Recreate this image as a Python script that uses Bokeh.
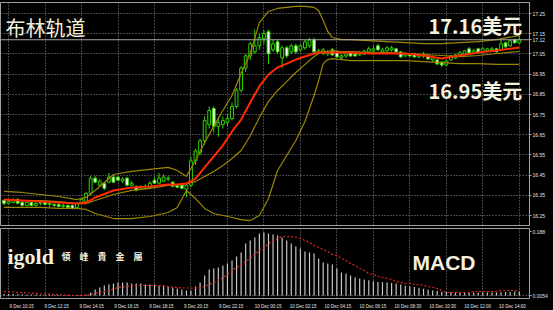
import numpy as np
from bokeh.plotting import figure
from bokeh.layouts import column
from bokeh.models import Range1d, FixedTicker, Grid, Span, Label, NumeralTickFormatter
from bokeh.embed import file_html
from bokeh.resources import INLINE

# ---------------- data ----------------
time_labels = ["9 Dec 10:15", "9 Dec 12:15", "9 Dec 14:15", "9 Dec 16:15", "9 Dec 18:15",
               "9 Dec 20:15", "9 Dec 22:15", "10 Dec 00:15", "10 Dec 02:15", "10 Dec 04:15",
               "10 Dec 06:15", "10 Dec 08:30", "10 Dec 10:30", "10 Dec 12:00", "10 Dec 14:00"]
label_bars = [1, 9, 17, 25, 33, 41, 49, 57, 65, 73, 81, 89, 97, 105, 113]

opens = [
    16.325, 16.31, 16.315, 16.33, 16.315, 16.30, 16.315, 16.30, 16.31, 16.315,
    16.305, 16.305, 16.305, 16.295, 16.30, 16.30, 16.29, 16.31, 16.32, 16.36,
    16.435, 16.40, 16.41, 16.415, 16.44, 16.44, 16.42, 16.435, 16.40, 16.39,
    16.38, 16.385, 16.39, 16.425, 16.41, 16.42, 16.43, 16.415, 16.40, 16.40,
    16.38, 16.40, 16.52, 16.56, 16.62, 16.70, 16.78, 16.69, 16.70, 16.71,
    16.73, 16.79, 16.87, 16.98, 17.04, 17.06, 17.09, 17.126, 17.16, 17.07,
    17.11, 17.03, 17.08, 17.06, 17.09, 17.07, 17.08, 17.09, 17.12, 17.055,
    17.05, 17.05, 17.07, 17.06, 17.03, 17.04, 17.055, 17.05, 17.045, 17.05,
    17.06, 17.065, 17.09, 17.06, 17.065, 17.07, 17.075, 17.06, 17.04, 17.05,
    17.05, 17.035, 17.04, 17.04, 17.02, 17.02, 17.01, 16.995, 17.02, 17.03,
    17.045, 17.05, 17.075, 17.055, 17.075, 17.06, 17.065, 17.07, 17.075, 17.07,
    17.105, 17.09, 17.12, 17.105]
closes = [
    16.31, 16.32, 16.325, 16.31, 16.30, 16.315, 16.30, 16.31, 16.315, 16.305,
    16.31, 16.30, 16.295, 16.30, 16.29, 16.285, 16.31, 16.33, 16.36, 16.435,
    16.415, 16.42, 16.385, 16.44, 16.415, 16.425, 16.43, 16.40, 16.41, 16.375,
    16.39, 16.395, 16.41, 16.41, 16.435, 16.44, 16.435, 16.395, 16.39, 16.385,
    16.40, 16.52, 16.57, 16.62, 16.72, 16.77, 16.69, 16.71, 16.72, 16.73,
    16.79, 16.87, 16.98, 17.04, 17.10, 17.09, 17.13, 17.151, 17.05, 17.10,
    17.06, 17.08, 17.04, 17.09, 17.06, 17.09, 17.11, 17.12, 17.06, 17.065,
    17.07, 17.06, 17.045, 17.035, 17.04, 17.05, 17.04, 17.04, 17.055, 17.065,
    17.075, 17.075, 17.07, 17.07, 17.08, 17.08, 17.06, 17.035, 17.05, 17.04,
    17.035, 17.045, 17.05, 17.025, 17.03, 17.00, 16.995, 17.015, 17.04, 17.045,
    17.055, 17.065, 17.055, 17.065, 17.055, 17.075, 17.075, 17.075, 17.06, 17.10,
    17.085, 17.115, 17.105, 17.12]
highs = [
    16.33, 16.33, 16.335, 16.335, 16.32, 16.325, 16.32, 16.32, 16.325, 16.32,
    16.315, 16.31, 16.31, 16.31, 16.305, 16.305, 16.315, 16.335, 16.365, 16.445,
    16.445, 16.43, 16.415, 16.46, 16.45, 16.445, 16.44, 16.44, 16.42, 16.40,
    16.40, 16.405, 16.42, 16.44, 16.46, 16.455, 16.445, 16.42, 16.405, 16.405,
    16.41, 16.54, 16.58, 16.63, 16.74, 16.79, 16.79, 16.74, 16.74, 16.75,
    16.81, 16.88, 16.99, 17.05, 17.11, 17.17, 17.15, 17.166, 17.17, 17.12,
    17.12, 17.09, 17.09, 17.10, 17.10, 17.10, 17.12, 17.13, 17.13, 17.075,
    17.08, 17.07, 17.08, 17.065, 17.05, 17.06, 17.06, 17.06, 17.065, 17.07,
    17.085, 17.09, 17.10, 17.08, 17.09, 17.09, 17.08, 17.065, 17.06, 17.055,
    17.055, 17.055, 17.06, 17.045, 17.04, 17.025, 17.015, 17.02, 17.045, 17.05,
    17.065, 17.07, 17.085, 17.075, 17.08, 17.085, 17.08, 17.085, 17.08, 17.12,
    17.11, 17.12, 17.125, 17.14]
lows = [
    16.30, 16.305, 16.31, 16.305, 16.295, 16.295, 16.295, 16.295, 16.30, 16.30,
    16.29, 16.29, 16.29, 16.285, 16.285, 16.28, 16.285, 16.305, 16.315, 16.35,
    16.41, 16.395, 16.375, 16.41, 16.41, 16.42, 16.41, 16.395, 16.395, 16.37,
    16.375, 16.38, 16.385, 16.405, 16.405, 16.415, 16.42, 16.39, 16.385, 16.38,
    16.34, 16.39, 16.50, 16.55, 16.60, 16.68, 16.66, 16.64, 16.68, 16.69,
    16.72, 16.78, 16.86, 16.96, 17.02, 17.05, 17.07, 17.10, 17.00, 17.06,
    17.05, 16.98, 17.03, 17.05, 17.05, 17.06, 17.07, 17.08, 17.05, 17.05,
    17.045, 17.04, 17.04, 17.03, 17.02, 17.03, 17.035, 17.035, 17.04, 17.045,
    17.055, 17.06, 17.065, 17.055, 17.06, 17.06, 17.05, 17.03, 17.035, 17.035,
    17.03, 17.03, 17.03, 17.02, 17.01, 16.995, 16.985, 16.99, 17.015, 17.025,
    17.04, 17.045, 17.05, 17.05, 17.05, 17.055, 17.06, 17.065, 17.055, 17.065,
    17.08, 17.085, 17.10, 17.10]

# indicator lines, read at these bars
band_bars = [0, 4, 8, 12, 16, 18, 20, 24, 28, 32, 36, 38, 40, 42, 44, 46, 48, 50, 52, 54, 56,
             58, 60, 62, 64, 66, 68, 69, 70, 71, 72, 74, 76, 80, 84, 88, 92, 96, 100, 104, 108, 113]
bb_upper = [16.369, 16.364, 16.354, 16.344, 16.329, 16.340, 16.374, 16.453, 16.468, 16.478, 16.488,
            16.473, 16.443, 16.522, 16.611, 16.691, 16.770, 16.844, 16.953, 17.052, 17.205,
            17.260, 17.275, 17.280, 17.285, 17.285, 17.280, 17.265, 17.215, 17.161, 17.131,
            17.121, 17.121, 17.116, 17.111, 17.106, 17.101, 17.101, 17.106, 17.111, 17.121, 17.141]
bb_middle = [16.329, 16.324, 16.324, 16.319, 16.309, 16.309, 16.324, 16.354, 16.374, 16.384, 16.399,
             16.403, 16.408, 16.418, 16.443, 16.468, 16.498, 16.532, 16.572, 16.645, 16.735,
             16.815, 16.869, 16.913, 16.958, 16.998, 17.037, 17.052, 17.062, 17.062, 17.067,
             17.062, 17.062, 17.057, 17.057, 17.052, 17.047, 17.042, 17.037, 17.042, 17.052, 17.062]
bb_lower = [16.290, 16.290, 16.290, 16.285, 16.285, 16.280, 16.260, 16.235, 16.235, 16.245, 16.265,
            16.290, 16.374, 16.334, 16.285, 16.260, 16.250, 16.240, 16.230, 16.225, 16.250,
            16.334, 16.473, 16.547, 16.621, 16.715, 16.844, 16.918, 17.002, 17.022, 17.027,
            17.022, 17.017, 17.017, 17.017, 17.017, 17.012, 17.007, 17.002, 17.002, 16.998, 16.998]
ma_red = [16.329, 16.324, 16.319, 16.314, 16.309, 16.314, 16.339, 16.374, 16.389, 16.394, 16.403,
          16.403, 16.408, 16.433, 16.488, 16.542, 16.597, 16.666, 16.725, 16.809, 16.889,
          16.948, 16.983, 17.002, 17.022, 17.037, 17.052, 17.057, 17.057, 17.057, 17.057,
          17.057, 17.057, 17.052, 17.052, 17.052, 17.042, 17.027, 17.042, 17.057, 17.067, 17.082]

macd_main = [
    0.0044, 0.0044, 0.0041, 0.0038, 0.0035, 0.0032, 0.0029, 0.0026, 0.0024, 0.0021,
    0.0018, 0.0015, 0.0012, 0.0010, 0.0009, 0.0008, 0.0010, 0.0015, 0.0029,
    0.0088, 0.0176, 0.0235, 0.0294, 0.0323, 0.0353, 0.0382, 0.0382, 0.0382, 0.0353, 0.0353,
    0.0353, 0.0323, 0.0323, 0.0323, 0.0294, 0.0294, 0.0264, 0.0235, 0.0206, 0.0176, 0.0147,
    0.0147, 0.0264, 0.0382, 0.0588, 0.0764, 0.0793, 0.0823, 0.0881, 0.0940, 0.1028,
    0.1146, 0.1263, 0.1528, 0.1616, 0.1704, 0.1821, 0.1851, 0.1821, 0.1792, 0.1763,
    0.1704, 0.1616, 0.1528, 0.1439, 0.1381, 0.1293, 0.1263, 0.1234, 0.1087, 0.0969,
    0.0940, 0.0911, 0.0793, 0.0676, 0.0646, 0.0588, 0.0529, 0.0500, 0.0470, 0.0450,
    0.0420, 0.0400, 0.0390, 0.0380, 0.0370, 0.0350, 0.0320, 0.0290, 0.0270, 0.0250,
    0.0230, 0.0200, 0.0170, 0.0150, 0.0130, 0.0110, 0.0100, 0.0095, 0.0090, 0.0088,
    0.0087, 0.0086, 0.0085, 0.0085, 0.0085, 0.0085, 0.0085, 0.0090, 0.0095, 0.0100,
    0.0110, 0.0115, 0.0120]
macd_signal = [
    0.0118, 0.0110, 0.0100, 0.0092, 0.0085, 0.0076, 0.0068, 0.0060, 0.0052, 0.0045,
    0.0038, 0.0030, 0.0024, 0.0018, 0.0012, 0.0008, 0.0006, 0.0006, 0.0010,
    0.0029, 0.0059, 0.0088, 0.0118, 0.0147, 0.0191, 0.0235, 0.0250, 0.0264, 0.0279, 0.0294,
    0.0294, 0.0294, 0.0294, 0.0294, 0.0294, 0.0279, 0.0264, 0.0250, 0.0235, 0.0220, 0.0220,
    0.0220, 0.0220, 0.0235, 0.0264, 0.0323, 0.0382, 0.0441, 0.0529, 0.0617, 0.0734,
    0.0823, 0.0911, 0.0999, 0.1087, 0.1204, 0.1322, 0.1410, 0.1528, 0.1616, 0.1674,
    0.1733, 0.1733, 0.1733, 0.1704, 0.1674, 0.1616, 0.1557, 0.1469, 0.1410, 0.1351,
    0.1293, 0.1204, 0.1175, 0.1087, 0.1028, 0.0940, 0.0881, 0.0793, 0.0734, 0.0646,
    0.0617, 0.0558, 0.0529, 0.0499, 0.0470, 0.0411, 0.0382, 0.0353, 0.0353, 0.0323,
    0.0323, 0.0294, 0.0264, 0.0235, 0.0206, 0.0147, 0.0088, 0.0088, 0.0088, 0.0088,
    0.0088, 0.0088, 0.0118, 0.0118, 0.0118, 0.0118, 0.0118, 0.0118, 0.0147, 0.0147,
    0.0147, 0.0147, 0.0147]

price_ticks = [16.25, 16.35, 16.45, 16.55, 16.65, 16.75, 16.85, 16.95, 17.05, 17.15, 17.25]
macd_ticks = [0.0, 0.188]
macd_tick_text = ["0.0054", "0.188"]

# ---------------- layout / style ----------------
W = 553
BAR_PX = 4.56      # pixels per bar
X0_PX = 3.5        # pixel of bar 0
FRAME_R = 529      # right edge of the chart frames


def bar_at(px):
    return (px - X0_PX) / BAR_PX


def price_at(py):
    return 17.25 - (py - 13) / 202.0


def macd_at(py):
    return (295 - py) * 0.188 / 64.0


BG = "black"
GRID = "#8c8c8c"
FRAME = "#a0a0a0"
GREEN = "#2fd400"
OLIVE = "#9c8800"
RED = "#ff2a00"
CREAM = "#f3f0df"
TICK_TXT = "#e4e4e4"

x = np.arange(len(closes))
o = np.array(opens)
c = np.array(closes)
body_top = np.maximum(o, c)
body_bot = np.minimum(o, c)
body_fill = ["white" if cc < oo else "black" for oo, cc in zip(opens, closes)]
last_price = closes[-1]

# ---- price panel ----
p = figure(width=W, height=227, output_backend="svg", toolbar_location=None,
           x_range=Range1d(bar_at(0), bar_at(FRAME_R)),
           y_range=Range1d(price_at(225), price_at(2)),
           x_axis_location=None, y_axis_location="right",
           min_border_left=0, min_border_right=W - FRAME_R, min_border_top=2, min_border_bottom=2,
           background_fill_color=BG, border_fill_color=BG,
           outline_line_color=FRAME, outline_line_width=1)
ax = p.yaxis[0]
ax.ticker = FixedTicker(ticks=price_ticks + [last_price])
ax.formatter = NumeralTickFormatter(format="0.00")
ax.major_label_text_font = "Liberation Sans"
ax.major_label_text_font_size = "5px"
ax.major_label_text_color = TICK_TXT
ax.major_tick_out = 2
ax.major_tick_in = 0
ax.minor_tick_out = 0
ax.minor_tick_in = 0
ax.major_tick_line_color = FRAME
ax.axis_line_color = None
ax.major_label_standoff = 1
p.ygrid.ticker = FixedTicker(ticks=price_ticks)
p.ygrid.grid_line_color = GRID
p.ygrid.grid_line_dash = "1 2"
p.xgrid.visible = False
p.add_layout(Grid(dimension=0, ticker=FixedTicker(ticks=label_bars),
                  grid_line_color=GRID, grid_line_dash="1 2"))

p.add_layout(Span(location=last_price, dimension="width", line_color="#a8a8a8", line_width=1))

p.segment(x0=x, y0=lows, x1=x, y1=highs, line_color=GREEN, line_width=1)
p.vbar(x=x, top=body_top, bottom=body_bot, width=0.62, fill_color=body_fill,
       line_color=GREEN, line_width=1)

p.line(band_bars, bb_upper, line_color=OLIVE, line_width=1.2)
p.line(band_bars, bb_middle, line_color=OLIVE, line_width=1.2)
p.line(band_bars, bb_lower, line_color=OLIVE, line_width=1.2)
p.line(band_bars, ma_red, line_color=RED, line_width=2)

p.add_layout(Label(x=bar_at(5), y=price_at(12), text="布林轨道", text_font="Noto Sans CJK SC",
                   text_font_size="20px", text_color=CREAM, text_baseline="top", text_align="left"))
p.add_layout(Label(x=bar_at(428), y=price_at(10), text="17.16美元", text_font="Noto Sans CJK SC",
                   text_font_size="20px", text_font_style="bold", text_color=CREAM,
                   text_baseline="top", text_align="left"))
p.add_layout(Label(x=bar_at(428), y=price_at(75), text="16.95美元", text_font="Noto Sans CJK SC",
                   text_font_size="20px", text_font_style="bold", text_color=CREAM,
                   text_baseline="top", text_align="left"))

# ---- MACD panel ----
q = figure(width=W, height=72, output_backend="svg", toolbar_location=None,
           x_range=Range1d(bar_at(0), bar_at(FRAME_R)),
           y_range=Range1d(macd_at(298), macd_at(228)),
           x_axis_location=None, y_axis_location="right",
           min_border_left=0, min_border_right=W - FRAME_R, min_border_top=1, min_border_bottom=1,
           background_fill_color=BG, border_fill_color=BG,
           outline_line_color=FRAME, outline_line_width=1)
qa = q.yaxis[0]
qa.ticker = FixedTicker(ticks=macd_ticks)
qa.major_label_overrides = {t: s for t, s in zip(macd_ticks, macd_tick_text)}
qa.major_label_text_font = "Liberation Sans"
qa.major_label_text_font_size = "5px"
qa.major_label_text_color = TICK_TXT
qa.major_tick_out = 2
qa.major_tick_in = 0
qa.minor_tick_out = 0
qa.minor_tick_in = 0
qa.major_tick_line_color = FRAME
qa.axis_line_color = None
qa.major_label_standoff = 1
q.ygrid.ticker = FixedTicker(ticks=[0.0])
q.ygrid.grid_line_color = GRID
q.ygrid.grid_line_dash = "1 2"
q.xgrid.visible = False
q.add_layout(Grid(dimension=0, ticker=FixedTicker(ticks=label_bars),
                  grid_line_color=GRID, grid_line_dash="1 2"))

q.vbar(x=x, top=macd_main, bottom=0, width=0.26, fill_color="#c8c8c8", line_color=None)
q.line(x, macd_signal, line_color="#e8261c", line_width=1.2, line_dash="2 2")

q.add_layout(Label(x=bar_at(7), y=macd_at(243), text="igold", text_font="Liberation Serif",
                   text_font_size="22px", text_font_style="bold", text_color=CREAM,
                   text_baseline="top", text_align="left"))
q.add_layout(Label(x=bar_at(61), y=macd_at(256), text="領　峰　貴　金　屬", text_font="Noto Sans CJK TC",
                   text_font_size="9px", text_font_style="bold", text_color=CREAM,
                   text_baseline="middle", text_align="left"))
q.add_layout(Label(x=bar_at(412), y=macd_at(250), text="MACD", text_font="Liberation Sans",
                   text_font_size="21px", text_font_style="bold", text_color=CREAM,
                   text_baseline="top", text_align="left"))

# ---- time axis strip ----
label_pos = [b + (3.1 if t.startswith("9 ") else 3.6) for b, t in zip(label_bars, time_labels)]
s = figure(width=W, height=11, output_backend="svg", toolbar_location=None,
           x_range=Range1d(bar_at(0), bar_at(W)), y_range=Range1d(0, 1),
           x_axis_location="below", y_axis_location=None,
           min_border_left=0, min_border_right=0, min_border_top=0, min_border_bottom=10,
           background_fill_color=BG, border_fill_color=BG, outline_line_color=None)
sa = s.xaxis[0]
sa.ticker = FixedTicker(ticks=label_pos)
sa.major_label_overrides = {pp: t for pp, t in zip(label_pos, time_labels)}
sa.major_label_text_font = "Liberation Sans"
sa.major_label_text_font_size = "4.5px"
sa.major_label_text_color = TICK_TXT
sa.major_tick_out = 0
sa.major_tick_in = 0
sa.minor_tick_out = 0
sa.minor_tick_in = 0
sa.axis_line_color = None
sa.major_label_standoff = 2
s.xgrid.visible = False
s.ygrid.visible = False

layout = column(p, q, s, spacing=0, styles={"background-color": "black"})
open("out.html", "w").write(file_html(layout, INLINE))
